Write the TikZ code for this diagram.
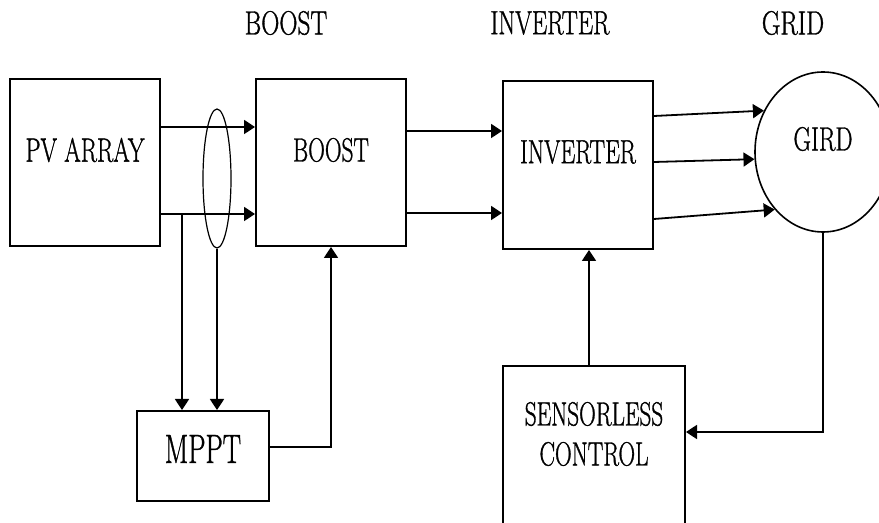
\documentclass[tikz,border=0pt]{standalone}
\usepackage{fontspec}
\setmainfont{Latin Modern Roman}[FakeBold=1.2]
\usetikzlibrary{arrows.meta,positioning,shapes.geometric}
\newcommand{\narrow}[2][0.69]{\scalebox{#1}[1]{#2}}

\begin{document}
\begin{tikzpicture}[x=0.5pt, y=-0.5pt, >={Triangle[length=5.5pt,width=7pt]}, line join=miter,
  block/.style={draw, line width=1pt, inner sep=0pt},
  lbl/.style={font=\rmfamily\fontsize{16.8pt}{20pt}\selectfont, align=center},
  wire/.style={line width=0.9pt}]

\clip (0,0) rectangle (879,523);

% titles
\node[lbl] (tboost) at (286,23) {\narrow[0.75]{BOOST}};
\node[lbl] (tinv) at (550,23) {\narrow[0.72]{INVERTER}};
\node[lbl] (tgrid) at (793,23) {\narrow[0.76]{GRID}};

% blocks
\node[block, minimum width=75pt, minimum height=83.5pt, label={[lbl,yshift=6.25pt]center:\narrow[0.71]{PV ARRAY}}] (pv) at (85,162.5) {};
\node[block, minimum width=75pt, minimum height=83.5pt, label={[lbl,yshift=6.25pt]center:\narrow{BOOST}}] (boost) at (331,162.5) {};
\node[block, minimum width=75pt, minimum height=84pt, label={[lbl,yshift=6.5pt]center:\narrow[0.7]{INVERTER}}] (inv) at (578,165) {};
\node[block, minimum width=66pt, minimum height=45pt, label={[lbl,font=\rmfamily\fontsize{20.5pt}{24pt}\selectfont,yshift=3.5pt]center:\narrow[0.67]{MPPT}}] (mppt) at (203,456) {};
\node[block, minimum width=91pt, minimum height=97pt, label={[lbl,yshift=14.5pt]center:\narrow{SENSORLESS}\\\narrow{CONTROL}}] (sens) at (594,463) {};
\node[block, ellipse, line width=0.8pt, minimum width=68pt, minimum height=80pt, label={[lbl,yshift=6.5pt]center:\narrow[0.72]{GIRD}}] (grid) at (823,152) {};
\node[draw, ellipse, line width=0.6pt, inner sep=0pt, minimum width=14pt, minimum height=69.5pt] (ct) at (217,178.5) {};

% pv to boost
\draw[->, wire] (pv.east |- 0,127) -- (boost.west |- 0,127);
\draw[->, wire] (pv.east |- 0,214) -- (boost.west |- 0,214);
\coordinate (tap) at (182,214);
\draw[->, wire] (tap) -- (tap |- mppt.north);
\draw[->, wire] (ct.south) -- (ct.south |- mppt.north);
\draw[->, wire] (mppt.east |- 0,447) -| (boost.south);

% boost to inverter to grid
\draw[->, wire] (boost.east |- 0,131) -- (inv.west |- 0,131);
\draw[->, wire] (boost.east |- 0,213) -- (inv.west |- 0,213);
\draw[->, wire] (inv.east |- 0,116) -- (grid.145);
\draw[->, wire] (inv.east |- 0,162) -- (grid.186);
\draw[->, wire] (inv.east |- 0,219) -- (grid.230);

% feedback
\draw[->, wire] (grid.south) |- (sens.east |- 0,432);
\draw[->, wire] (sens.north -| 589,0) -- (inv.south -| 589,0);

\end{tikzpicture}
\end{document}
